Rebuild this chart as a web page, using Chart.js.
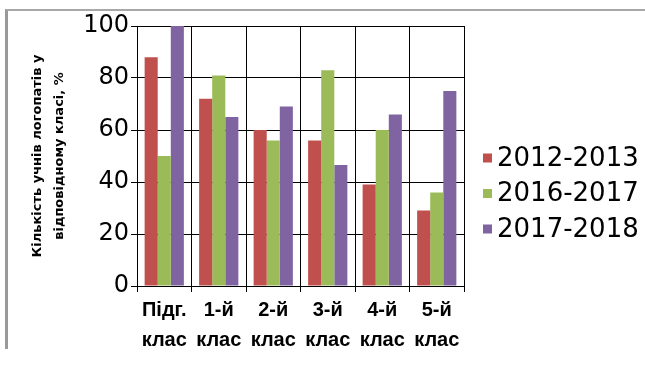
<!DOCTYPE html>
<html>
<head>
<meta charset="utf-8">
<script src="https://cdn.jsdelivr.net/npm/chart.js@4/dist/chart.umd.min.js"></script>
<style>
  html, body { margin: 0; padding: 0; background: #fff; }
  #wrap { position: relative; width: 645px; height: 367px; }
  #frame {
    position: absolute; left: 5px; top: 9px; width: 640px; height: 340px;
    border-top: 2px solid #a8a8a8; border-left: 3px solid #999;
    box-sizing: border-box; pointer-events: none;
  }
  canvas { position: absolute; left: 0; top: 0; }
</style>
</head>
<body>
<div id="wrap">
  <canvas id="chart" width="645" height="367"></canvas>
  <div id="frame"></div>
</div>
<script>
// Classes (two-line axis labels)
const categories = [
  ['Підг.', 'клас'],
  ['1-й', 'клас'],
  ['2-й', 'клас'],
  ['3-й', 'клас'],
  ['4-й', 'клас'],
  ['5-й', 'клас']
];

// Share of pupils with speech disorders per class, %
const seriesNames = ['2012-2013', '2016-2017', '2017-2018'];
const values20122013 = [88, 72, 60, 56, 39, 29];
const values20162017 = [50, 81, 56, 83, 60, 36];
const values20172018 = [100, 65, 69, 46.5, 66, 75];

const seriesColors = ['#C0504D', '#9BBB59', '#8064A2'];

// Value axis
const yMin = 0;
const yMax = 100;
const yStep = 20;
const yTitle = ['Кількість учнів логопатів у', 'відповідному класі, %'];

// Legend drawn to the right of the plot
const sideLegend = {
  id: 'sideLegend',
  afterDraw(chart) {
    const ctx = chart.ctx;
    ctx.save();
    ctx.font = '26px "DejaVu Sans"';
    ctx.textBaseline = 'middle';
    ctx.textAlign = 'left';
    chart.data.datasets.forEach((ds, i) => {
      const y = 158 + i * 35.5;
      ctx.fillStyle = ds.backgroundColor;
      ctx.fillRect(483, y - 4.5, 9, 9);
      ctx.fillStyle = '#000';
      ctx.fillText(ds.label, 497, y + 1);
    });
    ctx.restore();
  }
};

new Chart(document.getElementById('chart'), {
  type: 'bar',
  data: {
    labels: categories,
    datasets: [
      { label: seriesNames[0], data: values20122013, backgroundColor: seriesColors[0] },
      { label: seriesNames[1], data: values20162017, backgroundColor: seriesColors[1] },
      { label: seriesNames[2], data: values20172018, backgroundColor: seriesColors[2] }
    ]
  },
  options: {
    responsive: false,
    animation: false,
    devicePixelRatio: 1,
    layout: { padding: { left: 0, top: 26, right: 181, bottom: 0 } },
    datasets: { bar: { categoryPercentage: 0.72, barPercentage: 1.0, borderWidth: 0 } },
    plugins: {
      legend: { display: false },
      tooltip: { enabled: false }
    },
    scales: {
      x: {
        offset: true,
        grid: {
          offset: true,
          color: (c) => (c.index === categories.length ? '#c8c8c8' : '#000'),
          lineWidth: 1,
          drawTicks: true,
          tickLength: 6
        },
        border: { display: true, color: '#000', width: 1 },
        ticks: {
          color: '#000',
          padding: 3,
          maxRotation: 0,
          autoSkip: false,
          font: { family: '"Liberation Sans", Arial, sans-serif', size: 20, weight: 'bold', lineHeight: 1.5 }
        },
        afterFit(scale) { scale.height = 81; }
      },
      y: {
        min: yMin,
        max: yMax,
        ticks: {
          stepSize: yStep,
          color: '#000',
          padding: 2,
          font: { family: '"DejaVu Sans", sans-serif', size: 24, lineHeight: 1.2 }
        },
        grid: { color: '#000', lineWidth: 1, drawTicks: true, tickLength: 6 },
        border: { display: true, color: '#000', width: 1 },
        title: {
          display: true,
          text: yTitle,
          color: '#000',
          padding: { top: 27, bottom: 0 },
          font: { family: '"DejaVu Sans", sans-serif', size: 13, weight: 'bold', lineHeight: 1.65 }
        },
        afterFit(scale) { scale.width = 137; }
      }
    }
  },
  plugins: [sideLegend]
});
</script>
</body>
</html>
